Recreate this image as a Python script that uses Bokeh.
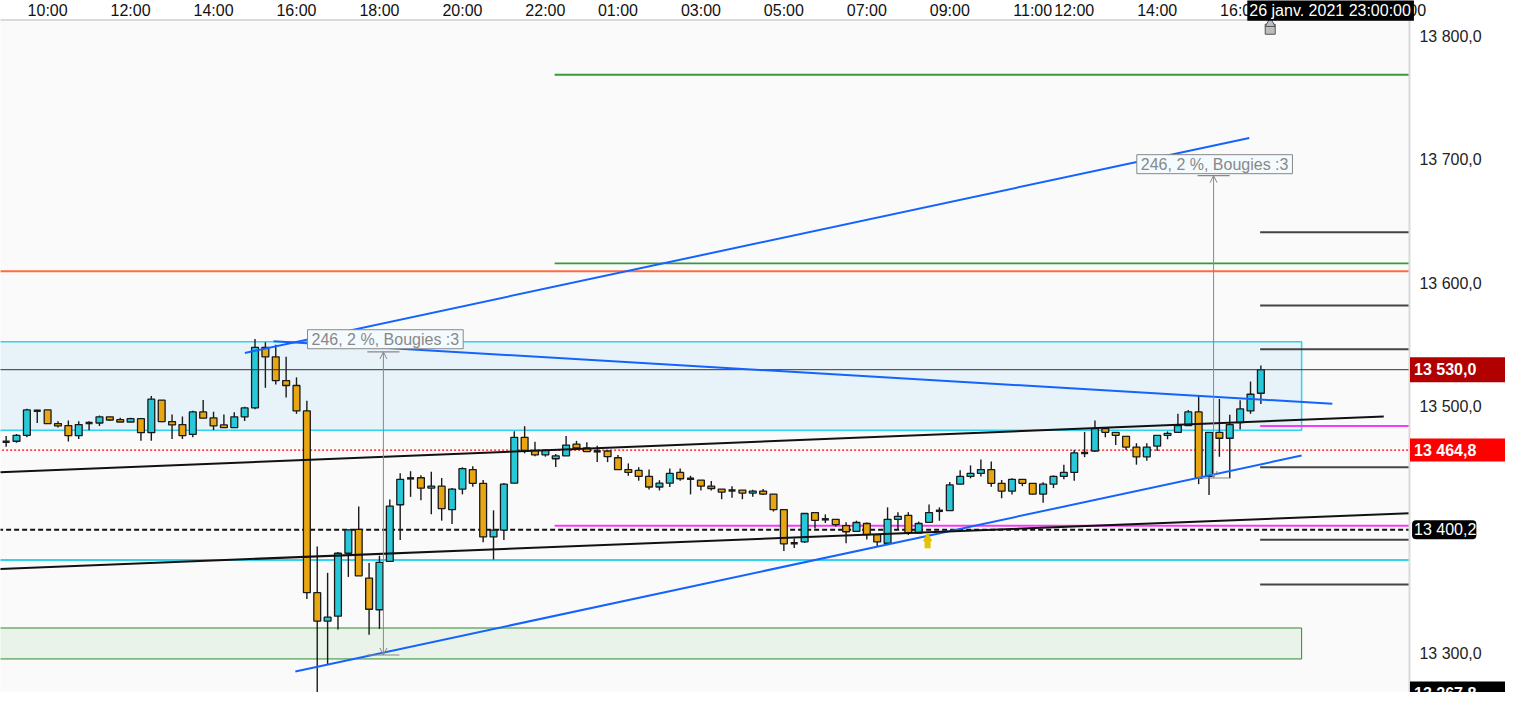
from bokeh.plotting import figure
from bokeh.models import ColumnDataSource, Label, Arrow, NormalHead, OpenHead
from bokeh.core.properties import value
from bokeh.embed import file_html
from bokeh.resources import INLINE

FONT = "Liberation Sans"

# ---------------- data (15-minute candles) ----------------
opens = [13471.5, 13472.0, 13476.8, 13496.8, 13497.4, 13486.3, 13484.7, 13476.5, 13486.8, 13486.8,
         13491.8, 13489.5, 13487.6, 13490.3, 13478.9, 13505.3, 13487.9, 13485.5, 13477.6, 13495.8,
         13491.0, 13485.2, 13483.1, 13491.8, 13499.0, 13548.1, 13540.4, 13521.2, 13517.2, 13496.6,
         13349.2, 13326.2, 13330.2, 13381.2, 13400.6, 13361.1, 13335.4, 13374.6, 13420.5, 13441.9,
         13442.4, 13434.0, 13435.6, 13416.6, 13433.2, 13449.0, 13437.9, 13394.4, 13400.0, 13438.0,
         13475.2, 13464.6, 13461.0, 13457.8, 13460.2, 13469.7, 13466.5, 13463.8, 13464.1, 13458.6,
         13449.0, 13448.3, 13443.5, 13434.9, 13438.0, 13446.7, 13441.6, 13440.4, 13435.6, 13433.2,
         13432.1, 13432.4, 13430.0, 13431.6, 13429.2, 13416.6, 13389.3, 13390.4, 13414.2, 13408.7,
         13408.7, 13403.6, 13398.9, 13405.3, 13396.3, 13389.3, 13408.7, 13411.9, 13397.6, 13406.3,
         13415.6, 13415.8, 13437.2, 13443.5, 13445.9, 13449.0, 13437.9, 13431.6, 13441.1, 13437.9,
         13429.2, 13437.2, 13443.5, 13446.7, 13462.5, 13464.1, 13482.3, 13479.2, 13476.0, 13467.3,
         13459.4, 13468.1, 13476.8, 13479.2, 13484.7, 13495.8, 13443.5, 13479.2, 13474.4, 13487.1,
         13496.6, 13510.9]
highs = [13476.2, 13477.8, 13498.4, 13497.5, 13497.4, 13488.1, 13488.9, 13488.1, 13488.1, 13492.9,
         13491.8, 13491.0, 13491.0, 13490.3, 13508.7, 13505.3, 13493.7, 13492.1, 13496.8, 13505.5,
         13496.0, 13493.7, 13495.5, 13500.0, 13554.9, 13552.3, 13550.2, 13540.4, 13523.8, 13504.8,
         13386.7, 13365.3, 13382.2, 13400.2, 13419.0, 13373.2, 13379.2, 13424.7, 13446.1, 13447.7,
         13444.5, 13447.2, 13442.2, 13434.0, 13450.9, 13451.7, 13440.6, 13416.0, 13438.2, 13480.0,
         13484.2, 13471.5, 13465.7, 13461.7, 13476.2, 13472.3, 13471.2, 13468.3, 13464.1, 13460.9,
         13454.0, 13450.9, 13449.0, 13440.4, 13449.8, 13449.8, 13444.0, 13440.4, 13439.8, 13433.2,
         13435.6, 13432.4, 13432.6, 13433.2, 13429.2, 13416.6, 13393.1, 13413.4, 13414.2, 13412.7,
         13408.7, 13406.3, 13407.6, 13406.1, 13396.3, 13418.4, 13414.5, 13414.5, 13406.9, 13420.7,
         13418.4, 13439.0, 13448.5, 13452.4, 13457.2, 13455.6, 13440.6, 13441.9, 13441.1, 13437.9,
         13438.8, 13444.3, 13453.0, 13464.9, 13479.6, 13488.9, 13482.3, 13479.2, 13476.0, 13470.4,
         13470.4, 13476.8, 13480.0, 13494.2, 13497.4, 13509.3, 13479.2, 13506.3, 13493.4, 13505.3,
         13520.4, 13533.3]
lows = [13467.5, 13470.7, 13475.2, 13486.8, 13486.3, 13483.1, 13471.7, 13473.9, 13481.0, 13484.4,
        13488.4, 13487.6, 13487.6, 13472.3, 13472.3, 13487.3, 13473.9, 13473.9, 13475.2, 13490.7,
        13481.2, 13483.1, 13483.1, 13488.4, 13497.9, 13515.3, 13518.0, 13507.4, 13494.2, 13344.1,
        13258.0, 13290.8, 13319.3, 13362.0, 13362.9, 13315.1, 13319.9, 13374.6, 13392.0, 13426.9,
        13424.2, 13412.8, 13407.6, 13405.0, 13428.9, 13435.2, 13390.1, 13376.1, 13392.0, 13438.0,
        13462.2, 13459.8, 13459.5, 13451.1, 13460.2, 13466.5, 13463.6, 13455.1, 13455.1, 13449.0,
        13444.0, 13440.0, 13432.9, 13432.1, 13434.9, 13440.0, 13428.9, 13432.1, 13432.1, 13425.0,
        13426.1, 13425.0, 13426.9, 13428.5, 13415.0, 13383.0, 13385.4, 13389.6, 13401.2, 13405.7,
        13402.8, 13389.3, 13398.9, 13392.3, 13386.5, 13388.0, 13400.5, 13396.0, 13397.6, 13406.3,
        13407.5, 13415.8, 13437.2, 13441.9, 13443.5, 13435.2, 13425.8, 13428.9, 13435.6, 13428.9,
        13422.1, 13434.0, 13441.1, 13440.0, 13459.1, 13463.3, 13475.2, 13468.9, 13464.9, 13453.0,
        13456.2, 13464.1, 13473.6, 13479.2, 13484.7, 13437.2, 13428.5, 13459.4, 13442.0, 13481.5,
        13494.2, 13502.1]
closes = [13471.5, 13476.8, 13497.4, 13496.8, 13486.3, 13484.4, 13476.5, 13485.5, 13486.8, 13491.8,
          13489.2, 13487.6, 13490.3, 13478.9, 13506.1, 13487.9, 13485.2, 13476.5, 13495.8, 13490.7,
          13484.4, 13483.1, 13491.8, 13499.0, 13548.1, 13540.4, 13521.2, 13517.2, 13496.6, 13349.2,
          13326.2, 13329.4, 13381.2, 13400.2, 13362.9, 13335.8, 13373.8, 13419.4, 13441.1, 13441.9,
          13434.0, 13435.6, 13417.4, 13433.2, 13449.8, 13437.9, 13394.4, 13399.9, 13437.2, 13475.2,
          13464.6, 13461.0, 13464.6, 13460.2, 13468.9, 13466.5, 13463.6, 13463.8, 13459.5, 13449.0,
          13446.7, 13443.5, 13434.9, 13438.0, 13445.9, 13441.6, 13441.6, 13435.6, 13433.7, 13430.8,
          13432.1, 13430.0, 13431.6, 13429.2, 13416.6, 13388.8, 13389.3, 13413.4, 13407.9, 13408.7,
          13404.4, 13398.6, 13406.1, 13396.3, 13390.4, 13408.7, 13411.1, 13397.6, 13405.3, 13414.2,
          13415.6, 13436.6, 13443.5, 13445.9, 13449.0, 13437.9, 13431.6, 13441.1, 13437.9, 13429.2,
          13437.2, 13443.5, 13446.7, 13462.5, 13462.5, 13482.3, 13479.2, 13476.8, 13467.3, 13459.4,
          13467.3, 13476.8, 13478.4, 13484.7, 13495.8, 13442.0, 13479.2, 13474.4, 13485.5, 13498.2,
          13510.1, 13530.0]

time_ticks = [4, 12, 20, 28, 36, 44, 52, 59, 67, 75, 83, 91, 99, 103, 111, 119, 127, 135]
time_labels = ["10:00", "12:00", "14:00", "16:00", "18:00", "20:00", "22:00", "01:00", "03:00",
               "05:00", "07:00", "09:00", "11:00", "12:00", "14:00", "16:00", "18:00", "20:00"]
price_ticks = [13300, 13500, 13600, 13700, 13800]
price_labels = ["13 300,0", "13 500,0", "13 600,0", "13 700,0", "13 800,0"]

# drawn objects (bar-index units / prices)
trend_x0 = [23.02, 25.79, 27.89, -0.6, -0.6]
trend_y0 = [13543.6, 13553.1, 13285.3, 13446.9, 13368.5]
trend_x1 = [119.88, 127.89, 124.93, 132.85, 135.33]
trend_y1 = [13717.9, 13502.4, 13460.4, 13492.1, 13413.6]
trend_colors = ["#1463ff", "#1463ff", "#1463ff", "#111111", "#111111"]

green_levels = [13769.1, 13616.2]
magenta_level = 13403.4
orange_level = 13609.8
last_price = 13530.0
red_level = 13464.8
dashed_level = 13400.2
cyan_level = 13375.8
gray_levels = [13641.5, 13582.1, 13546.5, 13450.9, 13392.2, 13355.8]
magenta_short_level = 13484.3
zone_start = 52.89
short_start = 120.93

blue_zone = (13481.0, 13552.6)
green_zone = (13295.5, 13320.6)
zone_right = 124.93

measure_x = [36.38, 116.44]
measure_lo = [13298.7, 13442.2]
measure_hi = [13544.4, 13687.3]
measure_label_x = [36.57, 116.54]
measure_label_y = [13554.7, 13696.6]
measure_text = "246, 2 %, Bougies :3"

tag_prices = [13530.0, 13464.8, 13267.8]
tag_texts = ["13 530,0", "13 464,8", "13 267,8"]
tag_fills = ["#b00000", "#ff0000", "#000000"]
tag_pads = [4, 3, 3]
cursor_price = 13400.2
cursor_text = "13 400,2"
date_text = "26 janv. 2021 23:00:00"
date_index = 119.69
marker_index = 121.9

signal_x = 88.86
signal_lo, signal_hi = 13385.3, 13397.6

# ---------------- layout of the chart (index / price space) ----------------
x_min, x_max = -0.544, 144.59         # full page width
scale_edge = 135.33                   # left edge of the price scale
y_min, y_max = 13268.3, 13829.3       # full page height
time_band = 13813.5                   # bottom edge of the time scale
time_label_y = 13821.4
price_label_x = 136.29

p = figure(width=1505, height=692, x_range=(x_min, x_max), y_range=(y_min, y_max),
           x_axis_location=None, y_axis_location=None,
           output_backend="svg", toolbar_location=None, min_border=0,
           background_fill_color="#fafafa", border_fill_color="white", outline_line_color=None)
p.grid.visible = False

# zones
p.quad(left=[x_min - 1], right=[zone_right], bottom=[blue_zone[0]], top=[blue_zone[1]],
       fill_color="#29b6f6", fill_alpha=0.09, line_color="#2ed3ee", line_width=1.5)
p.quad(left=[x_min - 1], right=[zone_right], bottom=[green_zone[0]], top=[green_zone[1]],
       fill_color="#4caf50", fill_alpha=0.09, line_color="#2e8b2e", line_width=1)

# horizontal levels
xr = scale_edge
xl = x_min - 1
p.segment(x0=[zone_start] * 2, x1=[xr] * 2, y0=green_levels, y1=green_levels, line_color="#389a38", line_width=1.8)
p.segment(x0=[zone_start], x1=[xr], y0=[magenta_level], y1=[magenta_level], line_color="#f53cf5", line_width=2)
p.segment(x0=[xl], x1=[xr], y0=[orange_level], y1=[orange_level], line_color="#ff6d3f", line_width=2)
p.segment(x0=[xl], x1=[xr], y0=[cyan_level], y1=[cyan_level], line_color="#33d3f0", line_width=2)
p.segment(x0=[short_start] * len(gray_levels), x1=[xr] * len(gray_levels), y0=gray_levels, y1=gray_levels,
          line_color="#444444", line_width=2)
p.segment(x0=[short_start], x1=[xr], y0=[magenta_short_level], y1=[magenta_short_level],
          line_color="#f53cf5", line_width=2)
p.segment(x0=[xl], x1=[xr], y0=[red_level], y1=[red_level], line_color="#ff0000",
          line_width=1.2, line_dash="2 2")
p.segment(x0=[xl], x1=[xr], y0=[dashed_level], y1=[dashed_level], line_color="#111111",
          line_width=2, line_dash="5 3")

# candles
n = len(opens)
idx = list(range(n))
bull = [c > o for o, c in zip(opens, closes)]
doji = [c == o for o, c in zip(opens, closes)]
body_idx = [i for i in idx if not doji[i]]
src = ColumnDataSource(dict(
    x=body_idx,
    top=[max(opens[i], closes[i]) for i in body_idx],
    bottom=[min(opens[i], closes[i]) for i in body_idx],
    color=["#27c8d8" if bull[i] else "#e9a613" for i in body_idx],
))
p.segment(x0=idx, x1=idx, y0=lows, y1=highs, line_color="#1a1a1a", line_width=1.4)
p.vbar(x="x", width=0.66, top="top", bottom="bottom", fill_color="color", line_color="#1a1a1a",
       line_width=1.3, source=src)
dj = [i for i in idx if doji[i]]
p.segment(x0=[i - 0.34 for i in dj], x1=[i + 0.34 for i in dj], y0=[opens[i] for i in dj],
          y1=[opens[i] for i in dj], line_color="#1a1a1a", line_width=2.5)

# last price line
p.segment(x0=[xl], x1=[xr], y0=[last_price], y1=[last_price], line_color="#333333", line_width=1)

# trend lines
p.segment(x0=trend_x0, y0=trend_y0, x1=trend_x1, y1=trend_y1, line_color=trend_colors, line_width=2)

# measurement tools
for mx, lo, hi in zip(measure_x, measure_lo, measure_hi):
    p.add_layout(Arrow(start=OpenHead(size=7, line_color="#888888", line_width=1),
                       end=OpenHead(size=7, line_color="#888888", line_width=1),
                       x_start=mx, y_start=lo, x_end=mx, y_end=hi, line_color="#888888", line_width=1))
    p.segment(x0=[mx - 1.55, mx - 1.55], x1=[mx + 1.55, mx + 1.55], y0=[lo, hi], y1=[lo, hi],
              line_color="#888888", line_width=1.2)

# signal arrow
p.add_layout(Arrow(end=NormalHead(size=8, fill_color="#e5c100", line_color="#e5c100"),
                   x_start=signal_x, y_start=signal_lo, x_end=signal_x, y_end=signal_hi,
                   line_color="#e5c100", line_width=6))

# ---------------- scales (time on top, price on the right) ----------------
p.quad(left=[scale_edge], right=[x_max + 1], bottom=[y_min - 10], top=[y_max + 10],
       fill_color="white", line_color=None)
p.quad(left=[x_min - 1], right=[x_max + 1], bottom=[time_band], top=[y_max + 10],
       fill_color="white", line_color=None)
p.segment(x0=[scale_edge], x1=[scale_edge], y0=[y_min - 10], y1=[time_band],
          line_color="#d9d9d9", line_width=2)
p.segment(x0=[x_min - 1], x1=[scale_edge], y0=[time_band], y1=[time_band],
          line_color="#d9d9d9", line_width=2)
p.text(x=time_ticks, y=[time_label_y] * len(time_ticks), text=time_labels,
       text_font=value(FONT), text_font_size="16px", text_color="#111111",
       text_align="center", text_baseline="middle")
p.text(x=[price_label_x] * len(price_ticks), y=price_ticks, text=price_labels,
       text_font=value(FONT), text_font_size="16px", text_color="#222222",
       text_align="left", text_baseline="middle")

# cursor marker just under the time scale
p.scatter(x=[marker_index], y=[13806.0], marker="square", size=10, fill_color="#bdbdbd", line_color="#555555")
p.scatter(x=[marker_index], y=[13810.6], marker="triangle", size=10, fill_color="#bdbdbd", line_color="#555555")

# measurement texts
for lx, ly in zip(measure_label_x, measure_label_y):
    p.add_layout(Label(x=lx, y=ly, text=measure_text, text_align="center", text_baseline="middle",
                       text_font=FONT, text_font_size="16px", text_color="#888888",
                       background_fill_color="#f4fbfe", border_line_color="#888888",
                       padding=dict(top=1, right=4, bottom=1, left=4)))

# price tags on the price scale
for pr, t, f, pd in zip(tag_prices, tag_texts, tag_fills, tag_pads):
    p.add_layout(Label(x=scale_edge + 0.05, y=pr, text=t,
                       text_align="left", text_baseline="middle",
                       text_font=FONT, text_font_size="16px", text_color="white",
                       text_font_style="bold", background_fill_color=f,
                       padding=dict(top=pd, right=40, bottom=pd, left=4)))
p.add_layout(Label(x=scale_edge + 0.25, y=cursor_price, text=cursor_text,
                   text_align="left", text_baseline="middle",
                   text_font=FONT, text_font_size="16px", text_color="white",
                   background_fill_color="#000000", border_radius=4,
                   padding=dict(top=1, right=0, bottom=1, left=2)))

# time tag on the time scale
p.add_layout(Label(x=date_index, y=time_label_y, text=date_text,
                   text_align="left", text_baseline="middle", text_font=FONT, text_font_size="16px",
                   text_color="white", background_fill_color="#000000",
                   padding=dict(top=2, right=3, bottom=2, left=2)))

open("out.html", "w").write(file_html(p, INLINE))
